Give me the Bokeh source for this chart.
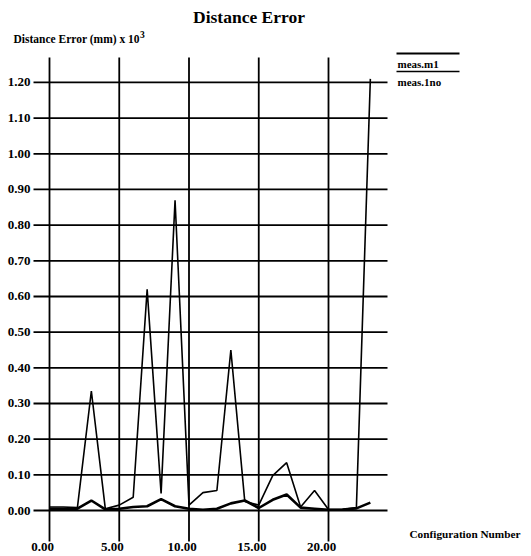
from bokeh.plotting import figure
from bokeh.models import Range1d, ColumnDataSource
from bokeh.core.properties import value
from bokeh.embed import file_html
from bokeh.resources import INLINE

# ---- data ----
config = list(range(24))
meas_m1 = [0.005, 0.005, 0.005, 0.028, 0.003, 0.005, 0.010, 0.012, 0.032, 0.012,
           0.005, 0.002, 0.005, 0.020, 0.028, 0.007, 0.030, 0.045, 0.008, 0.005,
           0.002, 0.003, 0.006, 0.022]
meas_1no = [0.010, 0.010, 0.008, 0.335, 0.005, 0.015, 0.037, 0.620, 0.048, 0.870,
            0.015, 0.050, 0.056, 0.450, 0.025, 0.015, 0.098, 0.134, 0.010, 0.056,
            0.003, 0.003, 0.008, 1.210]
x_ticks = [0, 5, 10, 15, 20]
x_tick_labels = ["0.00", "5.00", "10.00", "15.00", "20.00"]
y_ticks = [0.0, 0.1, 0.2, 0.3, 0.4, 0.5, 0.6, 0.7, 0.8, 0.9, 1.0, 1.1, 1.2]
y_tick_labels = ["0.00", "0.10", "0.20", "0.30", "0.40", "0.50", "0.60",
                 "0.70", "0.80", "0.90", "1.00", "1.10", "1.20"]
series_labels = ["meas.m1", "meas.1no"]

# ---- layout (page has no margin: canvas px == screen px) ----
W, H = 531, 556
PX_X, ORG_X = 13.95, 49.0      # px per x unit, screen x of x=0
PX_Y, ORG_Y = 356.7, 510.0     # px per y unit, screen y of y=0
X0, X1 = -ORG_X / PX_X, (W - ORG_X) / PX_X
Y0, Y1 = -(H - ORG_Y) / PX_Y, ORG_Y / PX_Y

FONT = "Liberation Serif"


def fx(px):
    return (px - ORG_X) / PX_X


def fy(py):
    return (ORG_Y - py) / PX_Y


p = figure(width=W, height=H, x_range=Range1d(X0, X1), y_range=Range1d(Y0, Y1),
           output_backend="svg", toolbar_location=None,
           x_axis_location=None, y_axis_location=None,
           min_border=0, min_border_left=0, min_border_right=0,
           min_border_top=0, min_border_bottom=0)
p.outline_line_color = None
p.background_fill_color = "white"
p.border_fill_color = "white"
p.grid.visible = False

# grid extents
gx0, gx1 = fx(33), fx(387)
gy0, gy1 = fy(541), fy(57)

p.segment(x0=[gx0] * len(y_ticks), x1=[gx1] * len(y_ticks), y0=y_ticks, y1=y_ticks,
          line_color="black", line_width=1.8)
p.segment(x0=x_ticks, x1=x_ticks, y0=[gy0] * len(x_ticks), y1=[gy1] * len(x_ticks),
          line_color="black", line_width=1.8)

# data lines
p.line(config, meas_1no, line_color="black", line_width=1.6)
p.line(config, meas_m1, line_color="black", line_width=2.6)

txt = dict(text_font=value(FONT), text_font_style="bold", text_color="black",
           text_baseline="middle")

# tick labels
ysrc = ColumnDataSource(dict(x=[fx(30)] * len(y_ticks), y=y_ticks, t=y_tick_labels))
p.text(x="x", y="y", text="t", source=ysrc, text_align="right",
       text_font_size="13px", **txt)
xsrc = ColumnDataSource(dict(x=[t - 7 / PX_X for t in x_ticks],
                             y=[fy(546)] * len(x_ticks), t=x_tick_labels))
p.text(x="x", y="y", text="t", source=xsrc, text_align="center",
       text_font_size="13px", **txt)

# titles
p.text(x=[fx(248.5)], y=[fy(16)], text=["Distance Error"], text_align="center",
       text_font_size="17.5px", **txt)
p.text(x=[fx(13)], y=[fy(38)], text=["Distance Error (mm) x 10"], text_align="left",
       text_font_size="11.5px", **txt)
p.text(x=[fx(139.5)], y=[fy(34)], text=["3"], text_align="left",
       text_font_size="9.5px", **txt)
p.text(x=[fx(409)], y=[fy(533)], text=["Configuration Number"], text_align="left",
       text_font_size="11.25px", **txt)

# legend: a line above each label
for i, name in enumerate(series_labels):
    ly = 53 + 18 * i
    p.segment(x0=[fx(396)], x1=[fx(459)], y0=[fy(ly)], y1=[fy(ly)],
              line_color="black", line_width=2.2 if i == 0 else 1.4)
    p.text(x=[fx(397)], y=[fy(ly + 10)], text=[name], text_align="left",
           text_font_size="11px", **txt)

open("out.html", "w").write(file_html(p, INLINE))
